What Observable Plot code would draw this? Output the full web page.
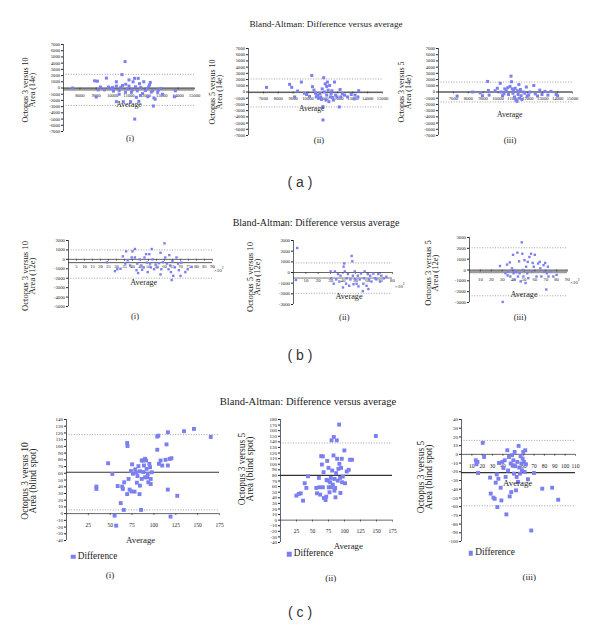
<!DOCTYPE html>
<html><head><meta charset="utf-8">
<script src="https://cdn.jsdelivr.net/npm/d3@7"></script>
<script src="https://cdn.jsdelivr.net/npm/@observablehq/plot@0.6"></script>
<style>
body{margin:0;background:#fff;}
#page{position:relative;width:600px;height:635px;overflow:hidden;font-family:"Liberation Serif",serif;color:#222;background:#fff;}
.c{position:absolute;white-space:nowrap;transform:translate(-50%,-50%);line-height:1;}
.l{position:absolute;white-space:nowrap;transform:translate(0,-50%);line-height:1;}
.rot{position:absolute;white-space:nowrap;text-align:center;transform:translate(-50%,-50%) rotate(-90deg);}
.panel{position:absolute;}
.panel svg{overflow:visible;}
.sq{position:absolute;transform:translate(-50%,-50%);}
</style></head><body><div id="page"></div>
<script>
// ---------- DATA (average, difference) ----------
const a1Data = [[7560,0],[8900,1150],[9070,1100],[9000,-1450],[9120,-300],[9260,160],[9620,1600],[9500,-300],[9750,150],[10000,100],[10050,-500],[10230,1000],[10230,300],[10230,-2200],[10400,-400],[10500,100],[10570,2150],[10760,4250],[10650,-2200],[10780,-700],[10900,-150],[11000,300],[11090,-2200],[11150,-700],[11250,1000],[11340,1550],[11400,200],[11350,-5000],[11500,-450],[11560,1550],[11640,700],[11600,-2150],[11720,100],[11830,-900],[11900,1000],[12000,-400],[12100,-100],[12150,-1400],[12250,500],[12300,900],[12360,-650],[12450,-450],[12520,-1600],[12490,-2900],[12600,-1800],[12750,-700],[12950,-100],[13050,-1000],[13770,-1400],[13830,-450],[10400,-1000],[11000,1300],[11200,-300],[10800,600],[11700,-1200],[12200,200],[10600,400],[9900,-100],[11450,-1500],[12800,-300]];
const a2Data = [[7210,750],[8760,1230],[8900,750],[9100,-800],[9300,160],[9550,1600],[9760,-200],[9900,-400],[10100,-700],[10250,2650],[10300,850],[10400,300],[10500,-200],[10550,-800],[10650,-500],[10700,-1000],[10800,-250],[10850,-800],[10950,500],[11000,-4500],[11000,-2350],[11050,2300],[11100,0],[11150,1300],[11200,-1300],[11250,-500],[11300,1600],[11350,300],[11400,-1550],[11450,1050],[11500,-800],[11550,-300],[11600,200],[11700,-1300],[11780,1600],[11850,-500],[11950,-800],[12100,-2400],[12150,400],[12200,-800],[12300,-300],[12450,-500],[12650,-800],[12900,-400],[13100,-1100],[13400,200],[13350,-800],[13150,-500],[10600,-600],[11250,900],[11650,-900],[10900,-1200]];
const a3Data = [[7250,-650],[8300,0],[8800,-150],[8950,-600],[9300,1700],[9350,250],[9400,-500],[9800,200],[9950,600],[10150,1400],[10200,0],[10300,-600],[10400,-300],[10550,200],[10650,700],[10700,-400],[10870,2550],[10900,1650],[10950,500],[11000,-200],[11100,-800],[11150,600],[11270,-1500],[11300,200],[11350,-400],[11400,1200],[11450,-1000],[11500,400],[11550,-600],[11600,-1200],[11700,0],[11800,-200],[11900,800],[11950,-700],[12150,0],[12400,1050],[12500,-300],[12650,-650],[12800,300],[12950,-400],[13150,100],[13350,-500],[13550,100],[13900,-400],[14000,-600],[10800,900],[11200,-1300],[11050,300],[12050,-500],[10450,500]];
const b1Data = [[24,-320],[29,-1250],[30.5,-1050],[32.5,-1000],[34,320],[35.5,-450],[36,850],[37,-100],[38.5,-650],[39.5,200],[40,850],[41.5,1100],[41.5,200],[42.5,-1150],[43,-450],[43.5,-1450],[44.5,0],[45.5,-650],[47,-850],[47.5,200],[48.5,550],[49,-350],[49.5,-1350],[50.5,550],[51,-450],[51.5,-850],[52,1100],[52.5,0],[53.5,-1050],[54.5,-550],[55.5,-850],[56.5,-400],[57.5,700],[58,-1050],[59,-300],[60,1700],[60.5,200],[61.5,-450],[62.5,-1050],[63,450],[63.5,-650],[64,-1350],[64.5,-2200],[65,-200],[65.5,-1750],[66.5,-850],[67.5,200],[68.5,-450],[69,-1150],[70,-1750],[70.5,-350],[73,-1350],[74.5,-1050],[57.5,-1600],[46,-1100],[77,-800]];
const b2Data = [[3,2300],[2,-700],[30,100],[30.5,-550],[32.5,-1050],[33.5,100],[34.5,-650],[36,-150],[37,-850],[38,-300],[40,-1400],[40.5,550],[41,850],[41.5,100],[42.5,-1050],[43,-550],[44,-150],[45,-1250],[46,-650],[47,1550],[47.5,1050],[48,-300],[48.5,-1100],[49.5,100],[50,-650],[51,-1050],[52,-300],[52.5,-1300],[53.5,-650],[54.5,-100],[56,-1750],[56.5,-1050],[57,-550],[57.5,100],[59,-1250],[60,-150],[60.5,-1550],[61,-650],[62,-300],[63,-850],[64.5,-100],[66,-550],[67,-650],[68.5,-150],[70,-850],[71,-300],[73,-550],[75,-400]];
const b3Data = [[28,370],[30.5,-2950],[33,-300],[34.5,500],[36,-150],[37,700],[37.5,-600],[39,150],[40,1400],[40.5,-300],[41.5,-900],[42,-50],[44,1600],[44.5,-600],[45.5,800],[46,-300],[47,-1050],[48,2550],[48.5,1500],[49,0],[49.5,-600],[50.5,900],[51.5,-1200],[52,300],[53,-300],[53.5,750],[54,-750],[55,1200],[56.5,1500],[57.5,-150],[58,650],[59,300],[60,1400],[61.5,-600],[63,600],[64.5,750],[65,150],[66,-600],[68,450],[68.5,-150],[69.5,650],[70.5,-1800],[71,-300],[72,300],[72.5,-600],[74,-150],[77,-600],[80,-450],[35,-500],[43,-200]];
const c1Data = [[34.2,40.2],[34.2,36.7],[47.6,74.9],[52.4,59],[58.5,41],[56.8,-17.9],[55,-3],[62,15.6],[64.5,36.7],[65.5,5.5],[63.7,40.2],[66,46.6],[69.4,105],[69.8,100.6],[69.4,29],[71,51.6],[72.2,35.7],[73.7,63.3],[75,73.3],[76,59.3],[77.8,32.7],[78.6,65.8],[80.5,46],[81.2,55.8],[82.3,70.6],[83.5,29],[84,63],[85.3,5.5],[86,51.6],[87.1,79],[87.9,61.8],[88.6,71.6],[89.8,54],[91,79],[91.7,66.6],[92.9,59],[93.6,46.6],[94.8,74],[96.3,51.6],[97.5,61.5],[96.3,44],[103.8,114.6],[105,116],[103.8,95],[107.6,79],[105.7,74],[109.5,71.5],[114.4,103],[116,121],[113.3,80],[118,81.4],[120,82.4],[115.9,71.6],[115.9,35.7],[119,-4.4],[126.7,26.5],[134.4,122.6],[145.8,126],[165,114],[86,79],[89.8,81.5],[92.3,54],[84,41.6],[79.9,61],[74.4,33],[95.6,69]];
const c2Data = [[24.8,43.8],[28.5,46.8],[31.6,48],[35.2,34.8],[37.8,66],[40.4,57.6],[43,78.5],[55.9,57.6],[57,48],[60,75.5],[61,58.8],[62,45.6],[63.6,114.5],[64.7,99.5],[66.2,114],[66.2,58.8],[67.3,85.7],[67.8,39.6],[70.4,36],[71.4,42],[73,106],[74,70.7],[75,93.5],[75.5,58.8],[76.6,49.8],[77.6,67.7],[78.6,75.5],[79.7,142.7],[80.7,88.7],[81.7,63.5],[82.8,115.7],[83.3,148.7],[84.3,73.7],[85.4,57.6],[85.9,40.8],[86.9,84],[88,142.7],[88.5,109.7],[89.5,70.7],[90.5,91.7],[91.6,170.9],[92,100.7],[93.1,75.5],[93.6,48.6],[94.7,93.5],[95.7,109.7],[96.2,67.7],[97.3,77.9],[99.8,124.7],[100.9,66],[103.5,87],[106.6,90],[108.6,108],[111.7,108],[149,150.5],[79,58.8],[84.3,52.8],[72,72]];
const c3Data = [[13.8,-6.8],[15.4,-8.7],[14.4,-11.4],[16,-21.4],[20.5,13.2],[21.8,-3],[27.6,-26.7],[28.2,-45],[30.8,-49.7],[32,-51],[33,-32.5],[34,-23],[34.6,-60.5],[35.6,-28],[36.2,-9.9],[37.8,-38.3],[38.5,-52.9],[39.4,-8.7],[40.4,-15.6],[41.7,-6.8],[42.6,-25.9],[43.3,-68.9],[44.2,4.7],[44.9,-18.5],[45.8,-3],[46.5,-48.3],[47.4,-10.5],[48,-43.3],[48.7,-1],[49.4,-12.4],[50,-6.8],[50.6,-22.1],[51.3,2.8],[51.9,-13.6],[52.6,-41.3],[53.2,-25.9],[53.8,-8.7],[54.5,-31.6],[55.1,9.7],[55.8,-15.2],[56.4,-22.1],[57,-2.2],[57.7,-10.5],[58.3,-18.3],[59,-4.9],[59.6,2.8],[60.3,-8.7],[60.9,-20.2],[61.5,4.7],[62.2,-11.4],[64.1,-28.6],[67.3,-87.4],[69.9,-21.4],[77.9,-39.4],[87.5,-38.3],[93.3,-52.1]];

// mean difference and limits of agreement, per panel a1..c3
const panelIds = ["a1","a2","a3","b1","b2","b3","c1","c2","c3"];
const meanDiff = [-200,-100,0,-350,-520,-150,61.5,80,-21];
const upperLoA = [2200,2100,1600,1000,900,2050,117.5,138,16];
const lowerLoA = [-2800,-2400,-1600,-2000,-1950,-2380,5.5,null,-59];

// axis domains and tick labels
const aXDomain1 = [7000,15000], aXDomain23 = [6000,15000], aYDomain = [-7000,7000];
const bXDomain1 = [0,90], bXDomain2 = [0,80], bXDomain3 = [0,90];
const bYDomain1 = [-5000,2000], bYDomain23 = [-3000,3000];
const cXDomain12 = [0,175], cXDomain3 = [0,110];
const cYDomain1 = [-40,140], cYDomain2 = [-40,180], cYDomain3 = [-100,40];
const aYTicks = [-7000,-6000,-5000,-4000,-3000,-2000,-1000,0,1000,2000,3000,4000,5000,6000,7000];
const a1XTicks = [8000,9000,10000,11000,12000,13000,14000,15000];
const a23XTicks = [7000,8000,9000,10000,11000,12000,13000,14000,15000];
const b1XTicks = [5,10,15,20,25,30,35,40,45,50,55,60,65,70,75,80,85,90];
const b2XTicks = [10,20,30,40,50,60,70,80];
const b3XTicks = [10,20,30,40,50,60,70,80,90];
const b1YTicks = [-5000,-4000,-3000,-2000,-1000,0,1000,2000];
const b23YTicks = [-3000,-2000,-1000,0,1000,2000,3000];
const c12XTicks = [25,50,75,100,125,150,175];
const c3XTicks = [10,20,30,40,50,60,70,80,90,100,110];
const c1YTicks = [-40,-30,-20,-10,0,10,20,30,40,50,60,70,80,90,100,110,120,130,140];
const c2YTicks = [-40,-30,-20,-10,0,10,20,30,40,50,60,70,80,90,100,110,120,130,140,150,160,170,180];
const c3YTicks = [-100,-90,-80,-70,-60,-50,-40,-30,-20,-10,0,10,20,30,40];

const yLabels = [["Octopus 3 versus 10","Area (14e)"],["Octopus 5 versus 10","Area (14e)"],["Octopus 3 versus 5","Area (14e)"],
  ["Octopus 3 versus 10","Area (12e)"],["Octopus 5 versus 10","Area (12e)"],["Octopus 3 versus 5","Area (12e)"],
  ["Octopus 3 versus 10","Area (blind spot)"],["Octopus 3 versus 5","Area (blind spot)"],["Octopus 3 versus 5","Area (blind spot)"]];
const subLabels = ["(i)","(ii)","(iii)","(i)","(ii)","(iii)","(i)","(ii)","(iii)"];
const titleText = "Bland-Altman: Difference versus average";
const sectionLabels = ["( a )","( b )","( c )"];

// ---------- LAYOUT ----------
const COLOR = "#7b7ff0";
const panels = [
  {data:a1Data, xDom:aXDomain1, yDom:aYDomain, xTicks:a1XTicks, yTicks:aYTicks, left:63, top:44, w:131, h:87, r:1.7, xDy:8, xF:4.6, yF:4.6, meanC:"#9c9c9c", meanW:3, lab:[28.7,90.3,8,7.3], avg:[129,105,7.7], sub:[130,138,8.5]},
  {data:a2Data, xDom:aXDomain23, yDom:aYDomain, xTicks:a23XTicks, yTicks:aYTicks, left:248, top:48, w:134, h:87, r:1.7, xDy:7, xF:4.6, yF:4.6, meanC:"#777", meanW:1, lab:[216.3,92,8,7.3], avg:[311.7,109,7.7], sub:[319,140,8.5]},
  {data:a3Data, xDom:aXDomain23, yDom:aYDomain, xTicks:a23XTicks, yTicks:aYTicks, left:438, top:48, w:134, h:87, r:1.7, xDy:7, xF:4.6, yF:4.6, meanC:"#777", meanW:1, lab:[405,91.7,8,7], avg:[509.7,115,7.7], sub:[510,140,8.5]},
  {data:b1Data, xDom:bXDomain1, yDom:bYDomain1, xTicks:b1XTicks, yTicks:b1YTicks, left:68, top:240, w:144, h:66, r:1.35, xDy:7.5, xF:4.6, yF:4.8, meanC:"#555", meanW:1, lab:[28.7,275.7,8.6,7.3], avg:[143.7,282.7,8.2], sub:[135,315.7,8.5], x10:[214,270]},
  {data:b2Data, xDom:bXDomain2, yDom:bYDomain23, xTicks:b2XTicks, yTicks:b23YTicks, left:293, top:240, w:99, h:64, r:1.35, xDy:8, xF:4.8, yF:4.8, meanC:"#777", meanW:1, lab:[253.7,277.3,8.6,7.3], avg:[349,297.3,8.2], sub:[344.3,317.3,8.5], x10:[395,286]},
  {data:b3Data, xDom:bXDomain3, yDom:bYDomain23, xTicks:b3XTicks, yTicks:b23YTicks, left:469, top:237, w:98, h:65, r:1.35, xDy:9, xF:4.8, yF:4.8, meanC:"#9c9c9c", meanW:3, lab:[432,273.3,8.6,7.3], avg:[524,294.7,8.2], sub:[520,317.3,8.5], x10:[570,282]},
  {data:c1Data, xDom:cXDomain12, yDom:cYDomain1, xTicks:c12XTicks, yTicks:c1YTicks, left:66, top:419, w:153, h:121, r:2.2, xDy:12, xF:5.5, yF:5, meanC:"#333", meanW:1.1, lab:[29.2,480.7,9.5,8.3], avg:[140.7,540,8.8], sub:[110,575,9], leg:[73.3,556.7]},
  {data:c2Data, xDom:cXDomain12, yDom:cYDomain2, xTicks:c12XTicks, yTicks:c2YTicks, left:280, top:419, w:112, h:123, r:2.2, xDy:11, xF:5.5, yF:5, meanC:"#333", meanW:1.1, lab:[246.3,469,9.5,8.3], avg:[348.3,546,8.8], sub:[330.7,577.7,9], leg:[289.3,554]},
  {data:c3Data, xDom:cXDomain3, yDom:cYDomain3, xTicks:c3XTicks, yTicks:c3YTicks, left:461, top:419, w:114, h:122, r:2.2, xDy:12, xF:5.5, yF:5, meanC:"#333", meanW:1.1, lab:[424.5,476.7,9.5,8.3], avg:[517.7,482.7,8.8], sub:[529.3,577.3,9], leg:[470.7,553.3]}
];

const page = document.getElementById("page");
function addDiv(cls, x, y, size, html, extra) {
  const d = document.createElement("div");
  d.className = cls;
  d.style.left = x + "px"; d.style.top = y + "px"; d.style.fontSize = size + "px";
  if (extra) Object.assign(d.style, extra);
  d.innerHTML = html;
  page.appendChild(d);
  return d;
}

// titles and section labels
[[326,25,9.2],[316,223,10],[308,402,10.6]].forEach(([x,y,s]) => addDiv("c", x, y, s, titleText));
[[300,182],[300,355],[300,612]].forEach(([x,y],i) => addDiv("c", x, y, 14, sectionLabels[i], {fontFamily:"'Liberation Sans',Arial,sans-serif", color:"#333"}));

panels.forEach((p, i) => {
  const mL = 30, mR = 6, mT = 5, mB = 5;
  const yPerPx = (p.yDom[1] - p.yDom[0]) / p.h;
  const limits = [upperLoA[i], lowerLoA[i]].filter(v => v != null);
  const marks = [
    Plot.ruleY(limits, {y: d => d, stroke: "#8a8a8a", strokeWidth: 0.8, strokeDasharray: "1,1.6"}),
    Plot.ruleY([meanDiff[i]], {y: d => d, stroke: p.meanC, strokeWidth: p.meanW}),
    Plot.ruleY([0], {y: d => d, stroke: "#222", strokeWidth: 0.7}),
    Plot.ruleX([p.xDom[0]], {x: d => d, stroke: "#222", strokeWidth: 0.7}),
    Plot.ruleX(p.xTicks, {x: d => d, y1: () => 0, y2: () => -2 * yPerPx, stroke: "#222", strokeWidth: 0.6}),
    Plot.text(p.xTicks, {x: d => d, y: () => 0, dy: p.xDy, text: d => String(d), fontSize: p.xF, fill: "#222", fontFamily: "Liberation Serif"}),
    Plot.axisY(p.yTicks, {anchor: "left", tickSize: 2, tickPadding: 1.5, tickFormat: d => String(d), fontSize: p.yF, label: null, fill: "#222"}),
    Plot.dot(p.data, {x: d => d[0], y: d => d[1], symbol: "square", r: p.r, fill: COLOR, stroke: "none"})
  ];
  const svg = Plot.plot({
    width: mL + p.w + mR, height: mT + p.h + mB,
    marginLeft: mL, marginRight: mR, marginTop: mT, marginBottom: mB,
    x: {domain: p.xDom, axis: null}, y: {domain: p.yDom, axis: null},
    style: {fontFamily: "Liberation Serif", fontSize: p.yF + "px", background: "transparent", overflow: "visible", color: "#222"},
    marks
  });
  const holder = document.createElement("div");
  holder.className = "panel";
  holder.style.left = (p.left - mL) + "px";
  holder.style.top = (p.top - mT) + "px";
  holder.appendChild(svg);
  page.appendChild(holder);

  const [lx, ly, ls, lh] = p.lab;
  addDiv("rot", lx, ly, ls, yLabels[i][0] + "<br>" + yLabels[i][1], {lineHeight: lh + "px"});
  addDiv("c", p.avg[0], p.avg[1], p.avg[2], "Average");
  addDiv("c", p.sub[0], p.sub[1], p.sub[2], subLabels[i]);
  if (p.x10) addDiv("l", p.x10[0], p.x10[1], 5, "×10<sup style='font-size:3.5px'>2</sup>");
  if (p.leg) {
    addDiv("sq", p.leg[0], p.leg[1], 1, "", {width: "4.5px", height: "4.5px", background: COLOR});
    addDiv("l", p.leg[0] + 4.5, p.leg[1], 9.3, "Difference");
  }
});
</script></body></html>
